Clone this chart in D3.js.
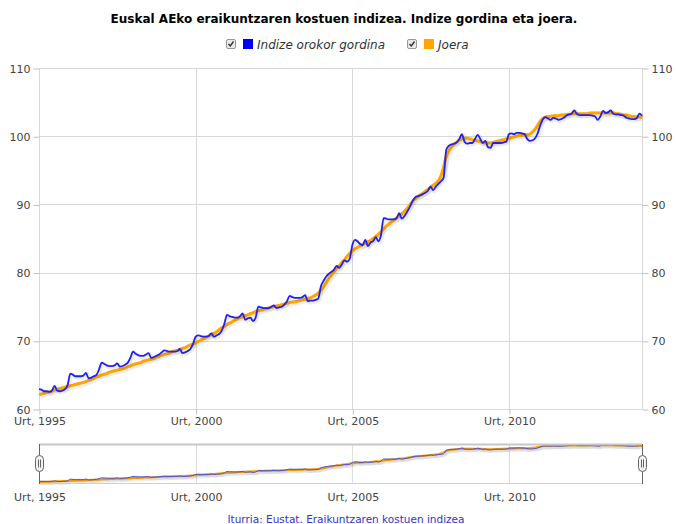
<!DOCTYPE html>
<html>
<head>
<meta charset="utf-8">
<script src="https://cdn.jsdelivr.net/npm/d3@7/dist/d3.min.js"></script>
<style>
body { margin: 0; background: #fff; }
svg { font-family: "DejaVu Sans", Verdana, sans-serif; }
</style>
</head>
<body>
<div id="chart"></div>
<script>
// monthly values, first month is January 1995
var startYear = 1995;

var indizea = [
  62.9, 62.8, 62.6, 62.6, 62.5, 62.7, 63.4, 62.7, 62.6, 62.7, 62.9, 63.5,   // 1995
  65.2, 65.0, 64.8, 64.8, 64.8, 64.9, 65.3, 64.5, 64.6, 64.8, 65.0, 65.8,   // 1996
  66.8, 66.6, 66.4, 66.3, 66.3, 66.4, 66.7, 66.2, 66.3, 66.5, 66.8, 67.5,   // 1997
  68.4, 68.1, 67.9, 67.8, 67.8, 68.0, 68.2, 67.5, 67.6, 67.8, 68.0, 68.3,   // 1998
  68.6, 68.5, 68.4, 68.4, 68.4, 68.5, 68.8, 68.2, 68.3, 68.5, 68.8, 69.5,   // 1999
  70.6, 70.8, 70.7, 70.6, 70.6, 70.7, 71.1, 70.6, 70.8, 71.0, 71.5, 72.5,   // 2000
  73.8, 73.6, 73.5, 73.4, 73.4, 73.6, 74.0, 73.1, 73.3, 73.4, 72.9, 73.4,   // 2001
  75.0, 74.9, 74.8, 74.8, 74.8, 75.0, 75.2, 74.8, 74.9, 75.0, 75.3, 75.8,   // 2002
  76.6, 76.4, 76.3, 76.3, 76.3, 76.4, 76.7, 75.8, 75.9, 75.9, 76.0, 76.2,   // 2003
  78.0, 78.8, 79.4, 79.8, 80.1, 80.4, 81.0, 80.7, 81.2, 81.8, 81.6, 82.0,   // 2004
  84.0, 84.8, 84.6, 84.2, 84.0, 84.8, 83.9, 84.4, 84.6, 85.2, 84.6, 85.5,   // 2005
  88.0, 87.9, 87.8, 87.8, 87.8, 88.0, 88.7, 87.9, 88.3, 88.9, 89.6, 90.4,   // 2006
  91.0, 91.2, 91.3, 91.5, 91.7, 92.0, 92.6, 92.1, 92.6, 93.0, 93.4, 93.9,   // 2007
  98.0, 98.6, 98.8, 98.9, 99.1, 99.6, 100.3, 99.2, 98.9, 99.0, 99.0, 99.6,  // 2008
  100.2, 99.6, 99.0, 99.3, 98.4, 98.3, 99.0, 99.0, 99.0, 99.0, 99.1, 99.2,  // 2009
  100.3, 100.4, 100.3, 100.5, 100.5, 100.4, 100.3, 99.6, 99.3, 99.4, 99.7, 100.4, // 2010
  101.6, 102.5, 102.8, 102.6, 102.4, 102.7, 102.6, 102.4, 102.5, 102.7, 103.0, 103.2, // 2011
  103.3, 103.8, 103.3, 103.1, 103.1, 103.1, 103.1, 103.1, 103.0, 102.9, 102.4, 102.9, // 2012
  103.7, 103.4, 103.5, 103.8, 103.3, 103.2, 103.2, 103.1, 103.0, 102.7, 102.6, 102.5, // 2013
  102.5, 102.7, 103.3, 103.0                                                 // 2014
];

var joera = [
  62.1, 62.2, 62.3, 62.4, 62.5, 62.6, 62.8, 62.9, 63.0, 63.1, 63.2, 63.3,   // 1995
  63.4, 63.5, 63.6, 63.7, 63.8, 63.9, 64.0, 64.2, 64.3, 64.5, 64.7, 64.8,   // 1996
  65.0, 65.1, 65.2, 65.4, 65.5, 65.6, 65.7, 65.8, 65.9, 66.0, 66.2, 66.3,   // 1997
  66.5, 66.6, 66.7, 66.8, 67.0, 67.1, 67.2, 67.3, 67.4, 67.6, 67.7, 67.9,   // 1998
  68.0, 68.1, 68.2, 68.4, 68.5, 68.6, 68.7, 68.9, 69.0, 69.2, 69.4, 69.5,   // 1999
  69.7, 69.9, 70.1, 70.3, 70.5, 70.7, 70.9, 71.1, 71.3, 71.6, 71.9, 72.1,   // 2000
  72.4, 72.6, 72.8, 73.0, 73.2, 73.4, 73.5, 73.7, 73.8, 74.0, 74.1, 74.3,   // 2001
  74.4, 74.5, 74.6, 74.7, 74.8, 74.9, 75.0, 75.1, 75.2, 75.3, 75.4, 75.5,   // 2002
  75.6, 75.7, 75.7, 75.8, 75.9, 76.0, 76.1, 76.2, 76.3, 76.5, 76.7, 77.0,   // 2003
  77.4, 77.9, 78.5, 79.1, 79.6, 80.1, 80.6, 81.0, 81.5, 81.9, 82.4, 82.8,   // 2004
  83.2, 83.5, 83.7, 83.9, 84.1, 84.3, 84.5, 84.7, 85.0, 85.3, 85.6, 86.0,   // 2005
  86.4, 86.8, 87.1, 87.4, 87.7, 88.0, 88.3, 88.6, 89.0, 89.4, 89.9, 90.4,   // 2006
  90.8, 91.1, 91.4, 91.6, 91.9, 92.2, 92.5, 92.8, 93.1, 93.5, 94.2, 95.5,   // 2007
  97.0, 97.9, 98.4, 98.8, 99.1, 99.4, 99.6, 99.7, 99.7, 99.6, 99.5, 99.4,   // 2008
  99.3, 99.2, 99.1, 99.0, 99.0, 99.0, 99.1, 99.2, 99.3, 99.4, 99.5, 99.6,   // 2009
  99.7, 99.8, 99.9, 100.0, 100.1, 100.1, 100.2, 100.2, 100.3, 100.6, 101.0, 101.6, // 2010
  102.2, 102.6, 102.8, 102.9, 102.9, 103.0, 103.0, 103.0, 103.1, 103.1, 103.2, 103.2, // 2011
  103.3, 103.3, 103.3, 103.3, 103.3, 103.3, 103.3, 103.4, 103.4, 103.4, 103.4, 103.4, // 2012
  103.4, 103.4, 103.4, 103.4, 103.4, 103.3, 103.3, 103.2, 103.1, 103.1, 103.0, 102.9, // 2013
  102.9, 102.8, 102.8, 102.7                                                 // 2014
];

var yTicks = [60, 70, 80, 90, 100, 110];
var xTickYears = [1995, 2000, 2005, 2010];
var seriesNames = ["Indize orokor gordina", "Joera"];
var seriesColors = ["#0000ff", "#ffa500"];

var W = 676, H = 524;
var plot = {left: 39, right: 642, top: 68, bottom: 409};
var nav = {top: 444, bottom: 483};

var dates = indizea.map(function(d, i) { return new Date(startYear, i, 1); });
var tickDates = xTickYears.map(function(y) { return new Date(y, 0, 1); });

var svg = d3.select("#chart").append("svg")
    .attr("width", W)
    .attr("height", H);

var x = d3.scaleTime()
    .domain(d3.extent(dates))
    .range([plot.left, plot.right]);
var y = d3.scaleLinear()
    .domain([60, 110])
    .range([plot.bottom, plot.top]);

// title
svg.append("text")
    .attr("x", W / 2 + 6)
    .attr("y", 23)
    .attr("text-anchor", "middle")
    .style("font-size", "12px")
    .style("font-weight", "bold")
    .style("fill", "#000")
    .text("Euskal AEko eraikuntzaren kostuen indizea. Indize gordina eta joera.");

// legend with checkboxes
var legendX = [226, 407];
var legend = svg.selectAll(".legend")
    .data(seriesNames)
  .enter().append("g")
    .attr("class", "legend")
    .attr("transform", function(d, i) { return "translate(" + legendX[i] + ",39)"; });
legend.append("rect")
    .attr("x", 0.5).attr("y", 0.5)
    .attr("width", 9).attr("height", 9)
    .attr("rx", 1.5)
    .attr("fill", "#e8e8e8")
    .attr("stroke", "#9a9a9a");
legend.append("path")
    .attr("d", "M2.5,5 L4.3,7 L7.5,2.5")
    .attr("fill", "none")
    .attr("stroke", "#333")
    .attr("stroke-width", 1.4);
legend.append("rect")
    .attr("x", 17).attr("y", 0)
    .attr("width", 10).attr("height", 10)
    .attr("fill", function(d, i) { return seriesColors[i]; });
legend.append("text")
    .attr("x", 31)
    .attr("y", 9.5)
    .style("font-size", "12px")
    .style("font-style", "italic")
    .style("fill", "#333")
    .text(function(d) { return d; });

// horizontal grid
svg.append("g")
    .selectAll("line")
    .data(yTicks)
  .enter().append("line")
    .attr("x1", plot.left).attr("x2", plot.right)
    .attr("y1", function(d) { return Math.round(y(d)) + 0.5; })
    .attr("y2", function(d) { return Math.round(y(d)) + 0.5; })
    .attr("stroke", "#d8d8d8");

// vertical grid
svg.append("g")
    .selectAll("line")
    .data(tickDates)
  .enter().append("line")
    .attr("x1", function(d) { return Math.round(x(d)) + 0.5; })
    .attr("x2", function(d) { return Math.round(x(d)) + 0.5; })
    .attr("y1", plot.top).attr("y2", plot.bottom)
    .attr("stroke", "#d8d8d8");

// right border of plot
svg.append("line")
    .attr("x1", plot.right + 0.5).attr("x2", plot.right + 0.5)
    .attr("y1", plot.top).attr("y2", plot.bottom)
    .attr("stroke", "#d8d8d8");

function styleAxis(g) {
  g.select(".domain").remove();
  g.selectAll(".tick line").attr("stroke", "#c0c0c0");
  g.selectAll(".tick text")
      .style("font-family", "DejaVu Sans, Verdana, sans-serif")
      .style("font-size", "11px")
      .style("fill", "#444");
}

// y axes on both sides
svg.append("g")
    .attr("transform", "translate(" + (plot.left + 0.5) + ",0.5)")
    .call(d3.axisLeft(y).tickValues(yTicks).tickSize(6).tickPadding(3))
    .call(styleAxis);
svg.append("g")
    .attr("transform", "translate(" + (plot.right + 0.5) + ",0.5)")
    .call(d3.axisRight(y).tickValues(yTicks).tickSize(6).tickPadding(3))
    .call(styleAxis);

// x axis
var xAxis = d3.axisBottom(x)
    .tickValues(tickDates)
    .tickSize(5)
    .tickPadding(3)
    .tickFormat(function(d) { return "Urt, " + d.getFullYear(); });
svg.append("g")
    .attr("transform", "translate(0.5," + (plot.bottom + 0.5) + ")")
    .call(xAxis)
    .call(styleAxis);

// lines with a soft shadow
var rows = dates.map(function(d, i) { return {date: d, a: indizea[i], b: joera[i]}; });

function drawSeries(g, xs, ys, key, color, width) {
  var line = d3.line()
      .curve(d3.curveMonotoneX)
      .x(function(d) { return xs(d.date); })
      .y(function(d) { return ys(d[key]); });
  g.append("path")
      .datum(rows)
      .attr("d", line)
      .attr("fill", "none")
      .attr("stroke", "#000")
      .attr("stroke-opacity", 0.07)
      .attr("stroke-width", width + 3)
      .attr("transform", "translate(1,1)");
  g.append("path")
      .datum(rows)
      .attr("d", line)
      .attr("fill", "none")
      .attr("stroke", color)
      .attr("stroke-width", width)
      .attr("stroke-linejoin", "round");
}

var main = svg.append("g");
drawSeries(main, x, y, "b", "#ffa500", 3);
drawSeries(main, x, y, "a", "#2222f0", 1.8);

// navigator
var yNav = d3.scaleLinear()
    .domain([d3.min(joera.concat(indizea)), d3.max(joera.concat(indizea))])
    .range([nav.bottom - 1, nav.top + 1]);

var navG = svg.append("g");
navG.selectAll(".navgrid")
    .data(tickDates)
  .enter().append("line")
    .attr("x1", function(d) { return Math.round(x(d)) + 0.5; })
    .attr("x2", function(d) { return Math.round(x(d)) + 0.5; })
    .attr("y1", nav.top).attr("y2", nav.bottom)
    .attr("stroke", "#dedede");
drawSeries(navG, x, yNav, "b", "#ffa500", 2);
drawSeries(navG, x, yNav, "a", "#5050e0", 1);
navG.append("line")
    .attr("x1", plot.left).attr("x2", plot.right)
    .attr("y1", nav.top + 0.5).attr("y2", nav.top + 0.5)
    .attr("stroke", "#c8c8c8").attr("stroke-width", 2);
navG.append("line")
    .attr("x1", plot.left).attr("x2", plot.right)
    .attr("y1", nav.bottom + 0.5).attr("y2", nav.bottom + 0.5)
    .attr("stroke", "#d0d0d0").attr("stroke-width", 1);

// handles at the ends
[plot.left, plot.right].forEach(function(hx) {
  var h = navG.append("g").attr("transform", "translate(" + (Math.round(hx) + 0.5) + ",0)");
  h.append("line")
      .attr("y1", nav.top).attr("y2", nav.bottom + 1)
      .attr("stroke", "#666");
  h.append("rect")
      .attr("x", -4).attr("y", (nav.top + nav.bottom) / 2 - 8)
      .attr("width", 8).attr("height", 16)
      .attr("rx", 4)
      .attr("fill", "#f2f2f2")
      .attr("stroke", "#666");
  h.append("line")
      .attr("x1", -1).attr("x2", -1)
      .attr("y1", (nav.top + nav.bottom) / 2 - 4).attr("y2", (nav.top + nav.bottom) / 2 + 4)
      .attr("stroke", "#666");
  h.append("line")
      .attr("x1", 1).attr("x2", 1)
      .attr("y1", (nav.top + nav.bottom) / 2 - 4).attr("y2", (nav.top + nav.bottom) / 2 + 4)
      .attr("stroke", "#666");
});

svg.append("g")
    .attr("transform", "translate(0.5," + (nav.bottom + 0.5) + ")")
    .call(d3.axisBottom(x).tickValues(tickDates).tickSize(0).tickPadding(10)
      .tickFormat(function(d) { return "Urt, " + d.getFullYear(); }))
    .call(styleAxis);

// source
svg.append("text")
    .attr("x", W / 2 + 8)
    .attr("y", 523)
    .attr("text-anchor", "middle")
    .style("font-size", "10.5px")
    .style("fill", "#3333cc")
    .text("Iturria: Eustat. Eraikuntzaren kostuen indizea");
</script>
</body>
</html>
